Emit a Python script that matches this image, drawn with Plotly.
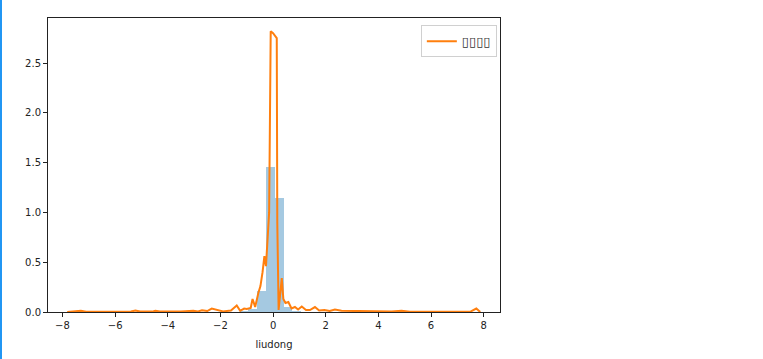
import plotly.graph_objects as go

# Histogram (density) bins
bin_width = 0.334
bin_centers = [-1.101, -0.767, -0.433, -0.099, 0.235, 0.569, 0.903]
bin_heights = [0.01, 0.03, 0.21, 1.46, 1.14, 0.05, 0.015]

# KDE curve
kde_x = [-7.82, -7.5, -7.3, -7.1, -6.0, -5.4, -5.23, -5.05, -4.6, -4.47, -4.3,
         -3.5, -3.03, -2.85, -2.7, -2.5, -2.33, -2.15, -1.9, -1.6, -1.38, -1.25,
         -1.1, -1.0, -0.85, -0.78, -0.68, -0.56, -0.48, -0.4, -0.33, -0.27,
         -0.22, -0.15, -0.09, 0.0, 0.14, 0.16, 0.21, 0.27, 0.33, 0.39, 0.47,
         0.58, 0.7, 0.83, 0.95, 1.09, 1.25, 1.4, 1.59, 1.75, 1.95, 2.15, 2.35,
         2.6, 2.9, 3.2, 3.6, 4.0, 4.5, 4.88, 5.2, 6.0, 7.0, 7.5, 7.72, 7.87]
kde_y = [0.0, 0.005, 0.012, 0.003, 0.003, 0.004, 0.014, 0.004, 0.004, 0.013, 0.004,
         0.004, 0.012, 0.006, 0.018, 0.01, 0.035, 0.02, 0.006, 0.015, 0.065, 0.012,
         0.035, 0.03, 0.04, 0.13, 0.05, 0.19, 0.26, 0.4, 0.56, 0.46,
         0.7, 1.0, 2.82, 2.80, 2.75, 0.9, 0.02, 0.15, 0.34, 0.13, 0.09,
         0.1, 0.035, 0.05, 0.025, 0.055, 0.02, 0.02, 0.05, 0.015, 0.02, 0.01, 0.025,
         0.012, 0.01, 0.008, 0.012, 0.004, 0.004, 0.012, 0.003, 0.003, 0.003, 0.004, 0.035, 0.0]

legend_label = "▯▯▯▯"
x_title = "liudong"
x_ticks = [-8, -6, -4, -2, 0, 2, 4, 6, 8]
y_ticks = [0.0, 0.5, 1.0, 1.5, 2.0, 2.5]
y_ticklabels = ["0.0", "0.5", "1.0", "1.5", "2.0", "2.5"]

fig = go.Figure()
fig.add_trace(go.Bar(
    x=bin_centers, y=bin_heights, width=[bin_width] * len(bin_centers),
    marker=dict(color="rgba(31,119,180,0.4)", line=dict(width=0)),
    showlegend=False, hoverinfo="skip"))
fig.add_trace(go.Scatter(
    x=kde_x, y=kde_y, mode="lines", name=legend_label,
    line=dict(color="#ff7f0e", width=2)))

fig.update_layout(
    width=763, height=359,
    margin=dict(l=48, r=263, t=18, b=47),
    paper_bgcolor="white", plot_bgcolor="white",
    font=dict(family="DejaVu Sans", size=10, color="#222"),
    bargap=0,
    legend=dict(x=0.993, y=0.975, xanchor="right", yanchor="top",
                bgcolor="rgba(255,255,255,0.8)", bordercolor="#d0d0d0", borderwidth=1,
                font=dict(family="DejaVu Sans", size=13, color="#333")),
    shapes=[dict(type="rect", xref="paper", yref="paper",
                 x0=-48 / 452, x1=-46 / 452, y0=-47 / 294, y1=1 + 18 / 294,
                 fillcolor="#2196f3", line=dict(width=0), layer="above")],
)
fig.update_xaxes(
    range=[-8.55, 8.62], tickvals=x_ticks, ticks="outside", ticklen=4,
    tickcolor="#222", showgrid=False, zeroline=False,
    showline=True, linecolor="#222", linewidth=1, mirror=True,
    title=dict(text=x_title, standoff=10, font=dict(size=10)))
fig.update_yaxes(
    range=[0, 2.952], tickvals=y_ticks, ticktext=y_ticklabels, ticks="outside",
    ticklen=4, tickcolor="#222", showgrid=False, zeroline=False,
    showline=True, linecolor="#222", linewidth=1, mirror=True)

fig.write_html("out.html")
